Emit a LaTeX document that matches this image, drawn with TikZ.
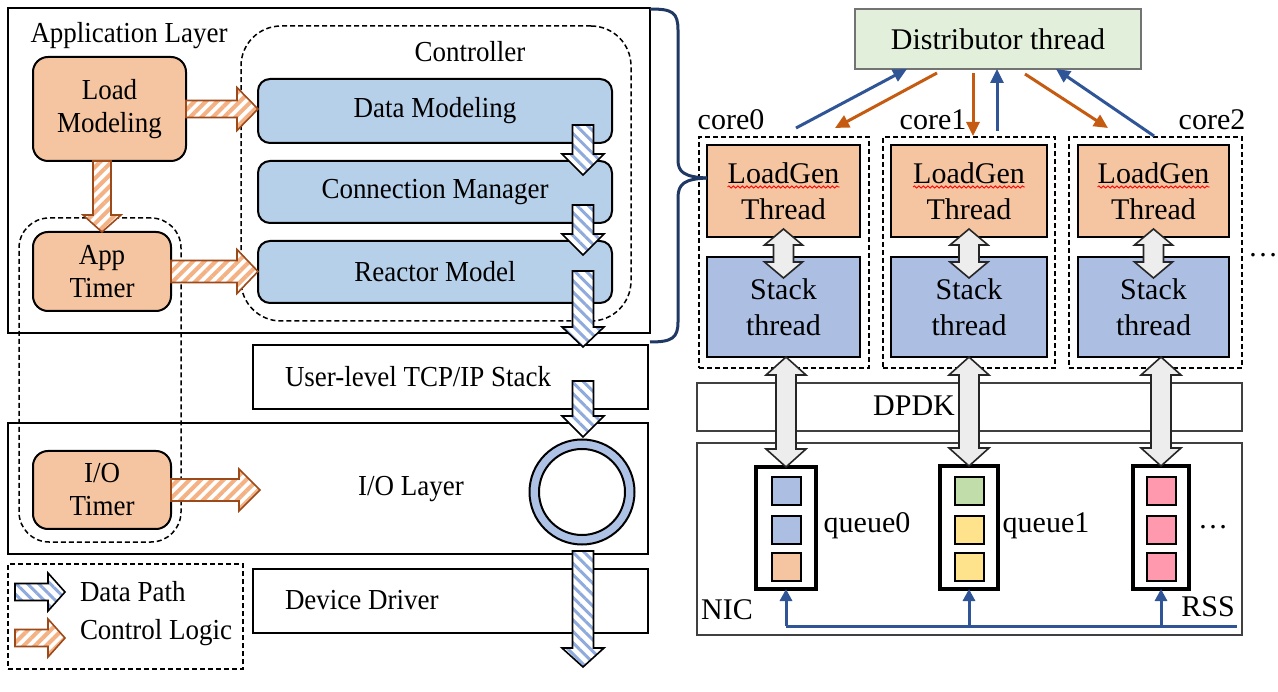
\documentclass[tikz,border=0pt]{standalone}
\usepackage{fontspec}
\setmainfont{Liberation Serif}
\newfontfamily\leftserif[FakeStretch=0.93]{Liberation Serif}
\usetikzlibrary{patterns.meta,arrows.meta,decorations.pathmorphing,calc}
\definecolor{orfill}{HTML}{F5C4A0}
\definecolor{ctrlblue}{HTML}{B7D0EA}
\definecolor{stackblue}{HTML}{ACBFE3}
\definecolor{ringblue}{HTML}{AEC2E6}
\definecolor{distgreen}{HTML}{E2EFDA}
\definecolor{ctrlstripe}{HTML}{F4B183}
\definecolor{ctrlborder}{HTML}{9C4A1A}
\definecolor{datastripe}{HTML}{8FAADC}
\definecolor{arrorange}{HTML}{C55A11}
\definecolor{arrblue}{HTML}{2F5597}
\definecolor{bracecol}{HTML}{1F3864}
\definecolor{qgreen}{HTML}{C0DDAA}
\definecolor{qyellow}{HTML}{FFE38C}
\definecolor{qpink}{HTML}{FF99AE}
\definecolor{dblgray}{HTML}{EDEDED}
\newcommand\fontL{\leftserif\fontsize{29}{33}\selectfont}
\newcommand\fontR{\fontsize{30}{36}\selectfont}
% box: name, style, x1, y1, x2, y2, text
\newcommand\bx[7]{\node[#2, anchor=north west, inner sep=0pt, outer sep=0pt, minimum width={#5-#3}, minimum height={#6-#4}] (#1) at (#3,#4) {#7};}
% fat right arrow: style, from, to, shaft half, head half, head length
\newcommand\fatR[6]{\path[#1] let \p1=#2, \p2=#3 in
  (\x1,\y1+#4) -- (\x2-#6,\y1+#4) -- (\x2-#6,\y1+#5) -- (\x2,\y1) -- (\x2-#6,\y1-#5) -- (\x2-#6,\y1-#4) -- (\x1,\y1-#4) -- cycle;}
% fat down arrow
\newcommand\fatD[6]{\path[#1] let \p1=#2, \p2=#3 in
  (\x1-#4,\y1) -- (\x1-#4,\y2+#6) -- (\x1-#5,\y2+#6) -- (\x1,\y2) -- (\x1+#5,\y2+#6) -- (\x1+#4,\y2+#6) -- (\x1+#4,\y1) -- cycle;}
% vertical double arrow: style, top, bottom, shaft half, head half, head length
\newcommand\dblV[6]{\path[#1] let \p1=#2, \p2=#3 in
  (\x1,\y1) -- (\x1+#5,\y1-#6) -- (\x1+#4,\y1-#6) -- (\x1+#4,\y2+#6) -- (\x1+#5,\y2+#6) -- (\x1,\y2) -- (\x1-#5,\y2+#6) -- (\x1-#4,\y2+#6) -- (\x1-#4,\y1-#6) -- (\x1-#5,\y1-#6) -- cycle;}
\tikzset{
  solidbox/.style={draw=black, line width=2pt},
  dashbox/.style={draw=black, line width=1.5pt, dash pattern=on 5pt off 3pt},
  orbox/.style={draw=black, line width=2pt, fill=orfill, rounded corners=15pt, align=center, font=\fontL},
  bluebox/.style={draw=black, line width=2pt, fill=ctrlblue, rounded corners=12pt, font=\fontL},
  lbl/.style={inner sep=0pt, outer sep=0pt, font=\fontL},
  rlbl/.style={inner sep=0pt, outer sep=0pt, font=\fontR},
  lgbox/.style={draw=black, line width=2.2pt, fill=orfill, align=center, font=\fontR},
  stbox/.style={draw=black, line width=2.2pt, fill=stackblue, align=center, font=\fontR},
  graybox/.style={draw=black!75, line width=2pt},
  queuebox/.style={draw=black, line width=4.5pt, fill=white},
  pkt/.style={draw=black, line width=2pt, minimum width=29pt, minimum height=28pt, inner sep=0pt, outer sep=0pt},
  ctrlarrow/.style={draw=ctrlborder, line width=1.6pt, preaction={fill=white},
    pattern={Lines[angle=45,distance=8pt,line width=4pt]}, pattern color=ctrlstripe},
  dataarrow/.style={draw=black, line width=1.6pt, preaction={fill=white},
    pattern={Lines[angle=-45,distance=8pt,line width=3pt]}, pattern color=datastripe},
  dblarrow/.style={draw=black!85, line width=1.6pt, fill=dblgray},
  oarr/.style={draw=arrorange, line width=3pt, -{Triangle[length=14pt,width=13pt]}},
  barr/.style={draw=arrblue, line width=3pt, -{Triangle[length=14pt,width=13pt]}},
  rssarr/.style={draw=arrblue, line width=3pt, -{Triangle[length=12pt,width=12pt]}},
  squig/.style={draw=red, line width=0.8pt, decorate, decoration={snake, amplitude=1.1pt, segment length=4.5pt}},
}
\begin{document}
\begin{tikzpicture}[x=1pt,y=-1pt]
\useasboundingbox (0,0) rectangle (1278,692);
% ---------------- left part ----------------
\bx{appl}{solidbox}{8}{8}{650}{333}{}
\node[lbl] (appllbl) at (129,36) {Application Layer};
\bx{ctrl}{dashbox, rounded corners=40pt}{241}{26}{631}{321}{}
\node[lbl] (ctrllbl) at (470,52) {Controller};
\bx{dm}{bluebox}{258}{79}{612}{143}{Data Modeling}
\bx{cm}{bluebox}{258}{161}{612}{223}{Connection Manager}
\bx{rm}{bluebox}{258}{241}{612}{303}{Reactor Model}
\bx{lm}{orbox}{33}{57}{186}{161}{Load\\Modeling}
\bx{tim}{dashbox, rounded corners=30pt}{19}{218}{181}{542}{}
\bx{at}{orbox}{33}{232}{171}{311}{App\\Timer}
\bx{tcp}{solidbox}{253}{345}{648}{409}{}
\node[lbl, anchor=west] (tcplbl) at (285,377) {User-level TCP/IP Stack};
\bx{iol}{solidbox}{8}{423}{648}{554}{}
\node[lbl] (iollbl) at (411,489) {I/O Layer};
\bx{iot}{orbox}{33}{451}{171}{529}{I/O\\Timer}
\node[circle, draw=black, line width=2pt, fill=ringblue, minimum size=105pt, inner sep=0pt] (ring) at (582,492) {};
\node[circle, draw=black, line width=2pt, fill=white, minimum size=86pt, inner sep=0pt] (ringin) at (ring.center) {};
\bx{dd}{solidbox}{253}{569}{648}{633}{}
\node[lbl, anchor=west] (ddlbl) at (285,600) {Device Driver};
\bx{leg}{dashbox}{8}{564}{243}{669}{}
\node[lbl, anchor=west] (legd) at (80,592) {Data Path};
\node[lbl, anchor=west] (legc) at (80,633) {Control Logic};
% control arrows
\fatR{ctrlarrow}{(lm.east)}{(dm.west)}{8.5}{21.5}{21}
\fatR{ctrlarrow}{(at.east)}{(rm.west)}{11}{22}{21}
\coordinate (iotend) at (260,490);
\fatR{ctrlarrow}{(iot.east)}{(iotend)}{11}{21}{21}
\fatD{ctrlarrow}{(at.north |- lm.south)}{(at.north)}{9}{19}{17}
% data arrows
\coordinate (d1s) at (583,125); \coordinate (d1e) at (583,175);
\coordinate (d2s) at (583,205); \coordinate (d2e) at (583,255);
\coordinate (d3s) at (583,271); \coordinate (d3e) at (583,347);
\coordinate (d4s) at (583,381); \coordinate (d4e) at (583,437);
\coordinate (d5s) at (583,551); \coordinate (d5e) at (583,667);
\fatD{dataarrow}{(d1s)}{(d1e)}{10.5}{21}{21}
\fatD{dataarrow}{(d2s)}{(d2e)}{10.5}{21}{21}
\fatD{dataarrow}{(d3s)}{(d3e)}{10.5}{21}{20}
\fatD{dataarrow}{(d4s)}{(d4e)}{10.5}{21}{21}
\fatD{dataarrow}{(d5s)}{(d5e)}{10.5}{21}{19}
% legend arrows
\coordinate (l1s) at (15,592); \coordinate (l1e) at (65,592);
\coordinate (l2s) at (15,638); \coordinate (l2e) at (65,638);
\fatR{dataarrow}{(l1s)}{(l1e)}{8.5}{19}{17}
\fatR{ctrlarrow}{(l2s)}{(l2e)}{8.5}{19}{17}
% ---------------- right part ----------------
\bx{dist}{draw=black!55, line width=2.2pt, fill=distgreen, font=\fontR}{855}{9}{1141}{69}{Distributor thread}
\bx{c0}{dashbox}{699}{137}{869}{368}{}
\bx{c1}{dashbox}{883}{137}{1055}{368}{}
\bx{c2}{dashbox}{1069}{137}{1242}{368}{}
\node[rlbl] (c0lbl) at (731,120) {core0};
\node[rlbl] (c1lbl) at (933,120) {core1};
\node[rlbl] (c2lbl) at (1212,120) {core2};
\bx{lg0}{lgbox}{707}{145}{860}{237}{LoadGen\\Thread}
\bx{lg1}{lgbox}{891}{145}{1047}{237}{LoadGen\\Thread}
\bx{lg2}{lgbox}{1078}{145}{1229}{237}{LoadGen\\Thread}
\bx{st0}{stbox}{707}{257}{860}{357}{Stack\\thread}
\bx{st1}{stbox}{891}{257}{1047}{357}{Stack\\thread}
\bx{st2}{stbox}{1078}{257}{1229}{357}{Stack\\thread}
\foreach \n in {lg0,lg1,lg2}{
  \draw[squig] ([xshift=-56pt,yshift=4pt]\n.center) -- ([xshift=56pt,yshift=4pt]\n.center);
}
\node[rlbl] (dots1) at (1263,255) {…};
% brace
\draw[bracecol, line width=3pt] (650,9) .. controls (672,9) and (678,12) .. (678,30) -- (678,160)
  .. controls (678,172) and (684,177) .. (707,178);
\draw[bracecol, line width=3pt] (707,178) .. controls (684,179) and (678,184) .. (678,198) -- (678,322)
  .. controls (678,338) and (672,342) .. (650,342);
% distributor arrows
\draw[barr] ([xshift=97pt,yshift=9pt]c0.north west) -- ([xshift=52pt]dist.south west);
\draw[oarr] ([xshift=82pt,yshift=-4pt]dist.south west) -- ([xshift=136pt,yshift=9pt]c0.north west);
\draw[oarr] ([xshift=118pt,yshift=-4pt]dist.south west) -- ([xshift=90pt,yshift=1pt]c1.north west);
\draw[barr] ([xshift=114pt,yshift=6pt]c1.north west) -- ([xshift=142pt]dist.south west);
\draw[oarr] ([xshift=170pt,yshift=-5pt]dist.south west) -- ([xshift=39pt,yshift=9pt]c2.north west);
\draw[barr] ([xshift=85pt,yshift=1pt]c2.north west) -- ([xshift=201pt]dist.south west);
% DPDK & NIC
\bx{dpdk}{graybox}{697}{383}{1242}{431}{}
\node[rlbl] (dpdklbl) at (914,406) {DPDK};
\bx{nic}{graybox}{697}{443}{1242}{635}{}
\node[rlbl] (niclbl) at (727,610) {NIC};
\node[rlbl] (rsslbl) at (1208,607) {RSS};
% queues
\bx{q0}{queuebox}{756}{467}{816}{589}{}
\bx{q1}{queuebox}{940}{466}{998}{589}{}
\bx{q2}{queuebox}{1133}{466}{1189}{589}{}
\node[pkt, fill=stackblue] (q0a) at (786,491) {};
\node[pkt, fill=stackblue] (q0b) at (786,530) {};
\node[pkt, fill=orfill] (q0c) at (786,567) {};
\node[pkt, fill=qgreen] (q1a) at (969,491) {};
\node[pkt, fill=qyellow] (q1b) at (969,530) {};
\node[pkt, fill=qyellow] (q1c) at (969,567) {};
\node[pkt, fill=qpink] (q2a) at (1161,491) {};
\node[pkt, fill=qpink] (q2b) at (1161,530) {};
\node[pkt, fill=qpink] (q2c) at (1161,567) {};
\node[rlbl] (q0lbl) at (867,526) {queue0};
\node[rlbl] (q1lbl) at (1046,526) {queue1};
\node[rlbl] (dots2) at (1213,527) {…};
% double arrows
\dblV{dblarrow}{([yshift=8pt]lg0.south)}{([yshift=-21pt]st0.north)}{10}{19}{16}
\dblV{dblarrow}{([yshift=8pt]lg1.south)}{([yshift=-21pt]st1.north)}{10}{19}{16}
\dblV{dblarrow}{([yshift=8pt]lg2.south)}{([yshift=-21pt]st2.north)}{10}{19}{16}
\dblV{dblarrow}{(q0.north |- st0.south)}{(q0.north)}{10}{20}{18}
\dblV{dblarrow}{(q1.north |- st1.south)}{(q1.north)}{10}{20}{18}
\dblV{dblarrow}{(q2.north |- st2.south)}{(q2.north)}{10}{20}{18}
% RSS
\coordinate (rssL) at (786,626);
\coordinate (rssR) at (1237,626);
\draw[draw=arrblue, line width=3pt] (q0.south |- rssL) -- (rssR);
\draw[rssarr] (q0.south |- rssL) -- (q0.south);
\draw[rssarr] (q1.south |- rssL) -- (q1.south);
\draw[rssarr] (q2.south |- rssL) -- (q2.south);
\end{tikzpicture}
\end{document}
